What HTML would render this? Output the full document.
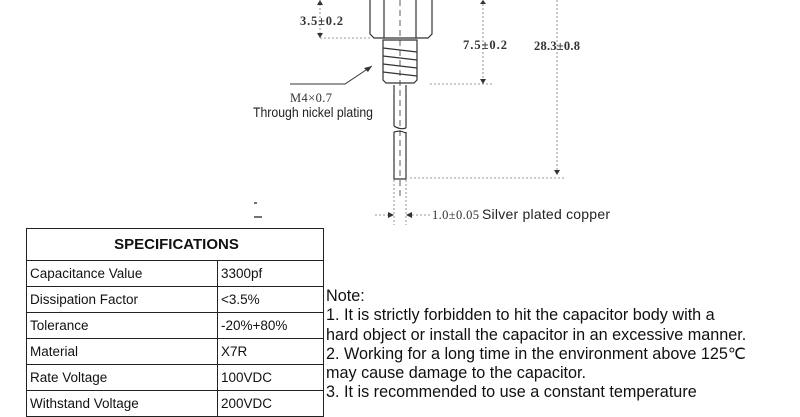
<!DOCTYPE html>
<html><head><style>
body{margin:0;width:800px;height:400px;overflow:hidden;background:#fff;font-family:"Liberation Sans",sans-serif;position:relative}
table{position:absolute;left:26px;top:228px;border-collapse:collapse;width:298px}
td{border:1.5px solid #222;font-size:13.5px;height:26px;padding:0 0 0 3px;color:#111;box-sizing:border-box}
td.h{text-align:center;font-weight:bold;font-size:15px;height:32px}
.note{position:absolute;left:326px;top:287px;font-size:16.2px;line-height:19.3px;color:#111;white-space:nowrap}
</style></head><body>
<svg width="800" height="400" style="position:absolute;left:0;top:0">
<g stroke="#333" fill="none" stroke-width="1.2">
<path d="M370,-2 V34 L374,38 H428 L432,34 V-2"/>
<path d="M384,-2 V38 M416,-2 V38"/>
<path d="M383,40 H417 V80 L414,83 H386 L383,80 Z"/>
<path d="M383,48 L417,52 M383,56 L417,60 M383,64 L417,68 M383,72 L417,76"/>
<path d="M394,85 V126 M406,85 V128 M394,132 V179 H406 V132"/>
<path d="M394,126 Q400,130 406,128 M394,132 Q400,130 406,133"/>
<path d="M400,0 V200" stroke-dasharray="6,4" stroke-width="0.8"/>
<g stroke-dasharray="2,2" stroke-width="0.8" stroke="#777">
<path d="M320,38 H370 M430,84 H493 M410,178 H565 M320,0 V40 M483,0 V84 M557,0 V176 M394,180 V225 M406,180 V225 M412,215 H430 M375,215 H393"/>
</g>
<path d="M290,84 H345 L372,66" stroke-width="1"/>
</g>
<g fill="#333">
<path d="M317,5 L320,0 L323,5Z M317,33 L320,38 L323,33Z M480,4 L483,0 L486,4Z M480,79 L483,84 L486,79Z M554,170 L557,175 L560,170Z M388,212 L394,215 L388,218Z M412,212 L406,215 L412,218Z M372,66 L364,68 L368,72Z"/>
</g>
<g font-family="Liberation Serif,serif" font-size="12.5" fill="#333" font-weight="bold">
<text x="300" y="25" textLength="43">3.5±0.2</text>
<text x="463" y="49" textLength="44">7.5±0.2</text>
<text x="534" y="50" textLength="46">28.3±0.8</text>
<text x="290" y="102" textLength="42" font-weight="normal">M4×0.7</text>
<text x="432" y="219" textLength="47" font-weight="normal">1.0±0.05</text>
</g>
<g font-size="14" fill="#222">
<text x="253" y="117" textLength="120" lengthAdjust="spacingAndGlyphs">Through nickel plating</text>
<text x="482" y="219" textLength="128">Silver plated copper</text>
</g>
<path d="M254,203 h3 M254,217 h8" stroke="#444" stroke-width="1.5"/>
</svg>
<table>
<tr><td class="h" colspan="2">SPECIFICATIONS</td></tr>
<tr><td style="width:191px">Capacitance Value</td><td>3300pf</td></tr>
<tr><td>Dissipation Factor</td><td>&lt;3.5%</td></tr>
<tr><td>Tolerance</td><td>-20%+80%</td></tr>
<tr><td>Material</td><td>X7R</td></tr>
<tr><td>Rate Voltage</td><td>100VDC</td></tr>
<tr><td>Withstand Voltage</td><td>200VDC</td></tr>
</table>
<div class="note">Note:<br>1. It is strictly forbidden to hit the capacitor body with a<br>hard object or install the capacitor in an excessive manner.<br>2. Working for a long time in the environment above 125℃<br>may cause damage to the capacitor.<br>3. It is recommended to use a constant temperature</div>
</body></html>
